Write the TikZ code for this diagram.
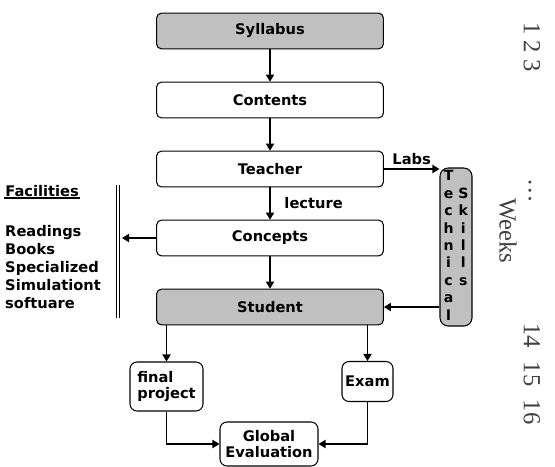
\documentclass[tikz,border=0pt]{standalone}
\usepackage{fontspec}
\setmainfont{DejaVu Sans}
\newfontfamily\weekfont{Liberation Serif}
\usepackage{tikz}
\usetikzlibrary{positioning,arrows.meta}
\definecolor{boxgray}{HTML}{C0C0C0}
\tikzset{
  box/.style={draw,rounded corners=4pt,line width=0.9pt,minimum width=6.8cm,minimum height=1.07cm,inner sep=0pt},
  graybox/.style={box,fill=boxgray},
  smallbox/.style={draw,rounded corners=6pt,line width=0.9pt,align=left,inner sep=0pt},
  flow/.style={-{Triangle[length=6pt,width=7pt]},line width=1pt},
  weeks/.style={font=\weekfont\fontsize{21}{24}\selectfont,text=black!75,rotate=-90,inner sep=0pt}
}

\begin{document}
\begin{tikzpicture}[x=0.03cm,y=-0.03cm,node distance=2.07cm,on grid,font=\bfseries\fontsize{12.5}{14}\selectfont]
  \useasboundingbox (0,0) rectangle (555,466);
  % main column
  \node[box] (cont) at (270,100) {Contents};
  \node[graybox] (syl) [above=of cont] {Syllabus};
  \node[box] (teach) [below=of cont] {Teacher};
  \node[box] (conc) [below=of teach] {Concepts};
  \node[graybox] (stu) [below=of conc] {Student};
  \node[graybox,rounded corners=7pt,minimum width=0.96cm,minimum height=4.74cm,
    font=\bfseries\fontsize{12}{14.9}\selectfont] (tech) at (456,247)
    {\begin{tabular}{@{}c@{\hspace{4pt}}c@{}}
      T & \\ e & S \\ c & k \\ h & i \\ n & l \\ i & l \\ c & s \\ a & \\ l &
    \end{tabular}};
  % facilities
  \node[anchor=south west,inner sep=1pt] (factitle) at (4,198) {Facilities};
  \draw[line width=2pt] (factitle.south west) -- (factitle.south east);
  \node[anchor=north west,align=left,inner sep=0pt,
    font=\bfseries\fontsize{12.5}{15.3}\selectfont] (faclist) at (5,225)
    {Readings\\Books\\Specialized\\Simulationt\\softuare};
  \coordinate (bartop) at (118,185);
  \coordinate (barbot) at (118,318);
  \coordinate (facin) at (122,240);
  \draw[double,double distance=2.5pt,line width=0.8pt] (bartop) -- (barbot);
  % evaluation
  \node[smallbox,minimum width=2.19cm,minimum height=1.47cm] (final) at (166.5,386.5) {final\\project};
  \node[smallbox,minimum width=1.53cm,minimum height=1.2cm] (exam) at (367.5,381.5) {Exam};
  \node[smallbox,align=center,minimum width=2.94cm,minimum height=1.32cm] (glob) at (269,444) {Global\\Evaluation};
  % weeks
  \node[weeks] (wfirst) at (532,47) {1 2 3};
  \node[weeks] (wdots) at (530,191) {\ldots};
  \node[weeks] (wlast) at (532,374) {14\hspace{0.55em}15\hspace{0.55em}16};
  \node[weeks] (wlabel) at (508,231) {Weeks};
  % arrows
  \path[flow]
  (syl) edge (cont)
  (cont) edge (teach)
  (teach) edge node [right,xshift=0.3cm] {lecture} (conc)
  (conc) edge (stu)
  (teach.east) edge node [above] {Labs} (teach.east -| tech.west)
  (stu.east -| tech.west) edge (stu.east)
  (conc.west) edge (conc.west -| facin)
  (stu.south -| final) edge (final)
  (stu.south -| exam) edge (exam)
  ;
  \draw[flow] (final) |- (glob);
  \draw[flow] (exam) |- (glob);
\end{tikzpicture}
\end{document}
